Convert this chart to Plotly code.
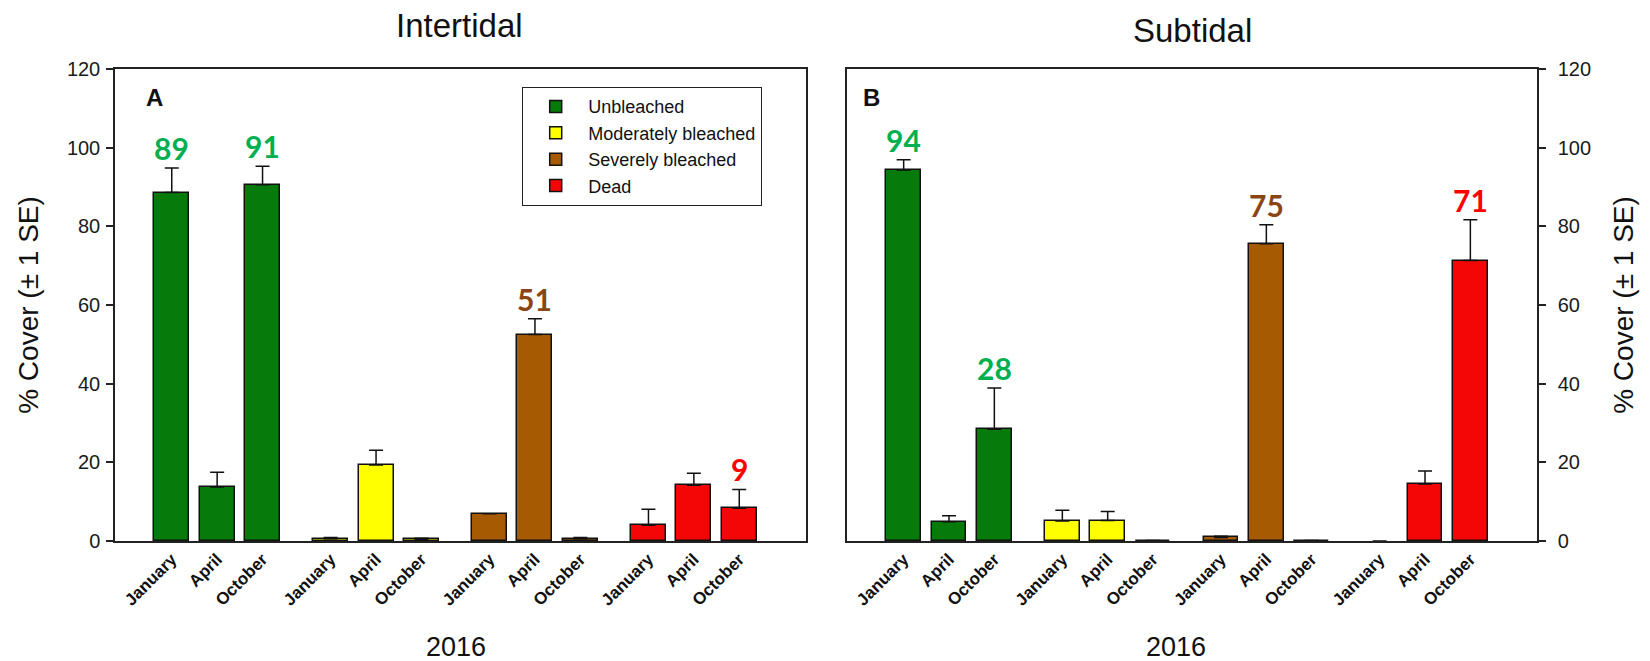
import plotly.graph_objects as go

# ---------------- data ----------------
months = ["January", "April", "October"]
categories = ["Unbleached", "Moderately bleached", "Severely bleached", "Dead"]

# Intertidal (panel A): mean % cover and 1 SE
inter_unbleached = [88.6, 13.7, 90.6]
inter_unbleached_se = [6.2, 3.8, 4.7]
inter_moderate = [0.6, 19.3, 0.4]
inter_moderate_se = [0.3, 3.8, 0.3]
inter_severe = [6.9, 52.5, 0.6]
inter_severe_se = [0.0, 4.0, 0.3]
inter_dead = [4.0, 14.2, 8.3]
inter_dead_se = [4.1, 3.0, 4.8]

# Subtidal (panel B)
sub_unbleached = [94.3, 4.9, 28.4]
sub_unbleached_se = [2.6, 1.5, 10.5]
sub_moderate = [5.1, 5.2, 0.1]
sub_moderate_se = [2.7, 2.3, 0.0]
sub_severe = [0.9, 75.6, 0.1]
sub_severe_se = [0.3, 4.8, 0.0]
sub_dead = [0.0, 14.5, 71.3]
sub_dead_se = [0.0, 3.3, 10.4]

# highlighted value labels
inter_unbleached_lbl = ["89", "", "91"]
inter_moderate_lbl = ["", "", ""]
inter_severe_lbl = ["", "51", ""]
inter_dead_lbl = ["", "", "9"]
sub_unbleached_lbl = ["94", "", "28"]
sub_moderate_lbl = ["", "", ""]
sub_severe_lbl = ["", "75", ""]
sub_dead_lbl = ["", "", "71"]

panel_titles = ["Intertidal", "Subtidal"]
panel_letters = ["A", "B"]
year_label = "2016"
y_title = "% Cover (± 1 SE)"

# ---------------- styles ----------------
bar_colors = ["#067A0B", "#FFFF00", "#A65B03", "#F40606"]
label_colors = ["#00B050", "#00B050", "#8B4513", "#FF0000"]
edge = "#111111"

panels = [
    dict(vals=[inter_unbleached, inter_moderate, inter_severe, inter_dead],
         ses=[inter_unbleached_se, inter_moderate_se, inter_severe_se, inter_dead_se],
         lbls=[inter_unbleached_lbl, inter_moderate_lbl, inter_severe_lbl, inter_dead_lbl],
         xa="x", ya="y"),
    dict(vals=[sub_unbleached, sub_moderate, sub_severe, sub_dead],
         ses=[sub_unbleached_se, sub_moderate_se, sub_severe_se, sub_dead_se],
         lbls=[sub_unbleached_lbl, sub_moderate_lbl, sub_severe_lbl, sub_dead_lbl],
         xa="x2", ya="y2"),
]

GROUP_STEP = 3.5
def positions(g):
    return [g * GROUP_STEP + j for j in range(len(months))]

all_pos = [p for g in range(len(categories)) for p in positions(g)]
all_text = months * len(categories)

fig = go.Figure()
annotations = []
for pi, pnl in enumerate(panels):
    for g, cat in enumerate(categories):
        xs = positions(g)
        vals = pnl["vals"][g]
        ses = pnl["ses"][g]
        fig.add_trace(go.Bar(
            x=xs, y=vals, width=0.77, name=cat, legendgroup=cat,
            showlegend=(pi == 0), xaxis=pnl["xa"], yaxis=pnl["ya"],
            marker=dict(color=bar_colors[g],
                        line=dict(color=edge, width=[1.5 if v > 0 else 0 for v in vals])),
            error_y=dict(type="data", symmetric=False,
                         array=[s if v > 0 else None for v, s in zip(vals, ses)],
                         arrayminus=[0] * len(xs), color=edge, thickness=1.5, width=7),
        ))
        for x, v, s, t in zip(xs, vals, ses, pnl["lbls"][g]):
            if t:
                annotations.append(dict(
                    x=x, y=v + s, xref=pnl["xa"], yref=pnl["ya"], text=t,
                    showarrow=False, yanchor="bottom", xanchor="center", yshift=0,
                    font=dict(family="Lato", size=30, color=label_colors[g], weight="bold"),
                ))

W, H = 1650, 661
def px(x):
    return x / W
def py(y):
    return 1 - y / H

# panel titles, letters, year labels
for t, cx, cy in zip(panel_titles, [459, 1192], [25, 30]):
    annotations.append(dict(x=px(cx), y=py(cy), xref="paper", yref="paper", text=t,
                            showarrow=False, xanchor="center", yanchor="middle",
                            font=dict(family="Arial", size=33, color="#111")))
for t, cx, cy in zip(panel_letters, [154, 872], [97, 97]):
    annotations.append(dict(x=px(cx), y=py(cy), xref="paper", yref="paper", text=t,
                            showarrow=False, xanchor="center", yanchor="middle",
                            font=dict(family="Arial", size=24, color="#111", weight="bold")))
for cx in [456, 1176]:
    annotations.append(dict(x=px(cx), y=py(647), xref="paper", yref="paper", text=year_label,
                            showarrow=False, xanchor="center", yanchor="middle",
                            font=dict(family="Arial", size=27, color="#111")))

ydom = [py(541), py(69)]
xcommon = dict(range=[-1.25, 13.97], tickvals=all_pos, ticktext=all_text, tickangle=-45,
               tickfont=dict(family="Arial", size=17, color="#111", weight="bold"),
               showline=True, mirror=True, linecolor="#222", linewidth=1.5,
               ticks="", showgrid=False, zeroline=False, fixedrange=True, automargin=False)
ycommon = dict(range=[0, 120], dtick=20, ticks="outside", ticklen=7, tickwidth=1.5,
               tickcolor="#222", showline=True, mirror=True, linecolor="#222", linewidth=1.5,
               showgrid=False, zeroline=False, domain=ydom, automargin=False,
               tickfont=dict(family="Arial", size=20, color="#1a1a1a"))
title_font = dict(family="Arial", size=28, color="#111")

fig.update_layout(
    width=W, height=H,
    margin=dict(l=0, r=0, t=0, b=0, autoexpand=False),
    paper_bgcolor="white", plot_bgcolor="white",
    barmode="overlay", bargap=0,
    xaxis=dict(domain=[px(115), px(806)], anchor="y", **xcommon),
    xaxis2=dict(domain=[px(847), px(1537)], anchor="y2", **xcommon),
    yaxis=dict(anchor="x", side="left", ticklabelstandoff=2,
               title=dict(text=y_title, font=title_font, standoff=20), **ycommon),
    yaxis2=dict(anchor="x2", side="right", ticklabelstandoff=8,
                title=dict(text=y_title, font=title_font, standoff=23), **ycommon),
    legend=dict(x=px(522), y=py(87), xanchor="left", yanchor="top",
                bordercolor="#222", borderwidth=1.2, bgcolor="white",
                font=dict(family="Arial", size=18, color="#111"),
                itemwidth=55, tracegroupgap=0),
    annotations=annotations,
    showlegend=True,
)

fig.write_html("out.html", config={"displayModeBar": False},
               post_script="document.body.style.margin='0';document.body.style.overflow='hidden';")
